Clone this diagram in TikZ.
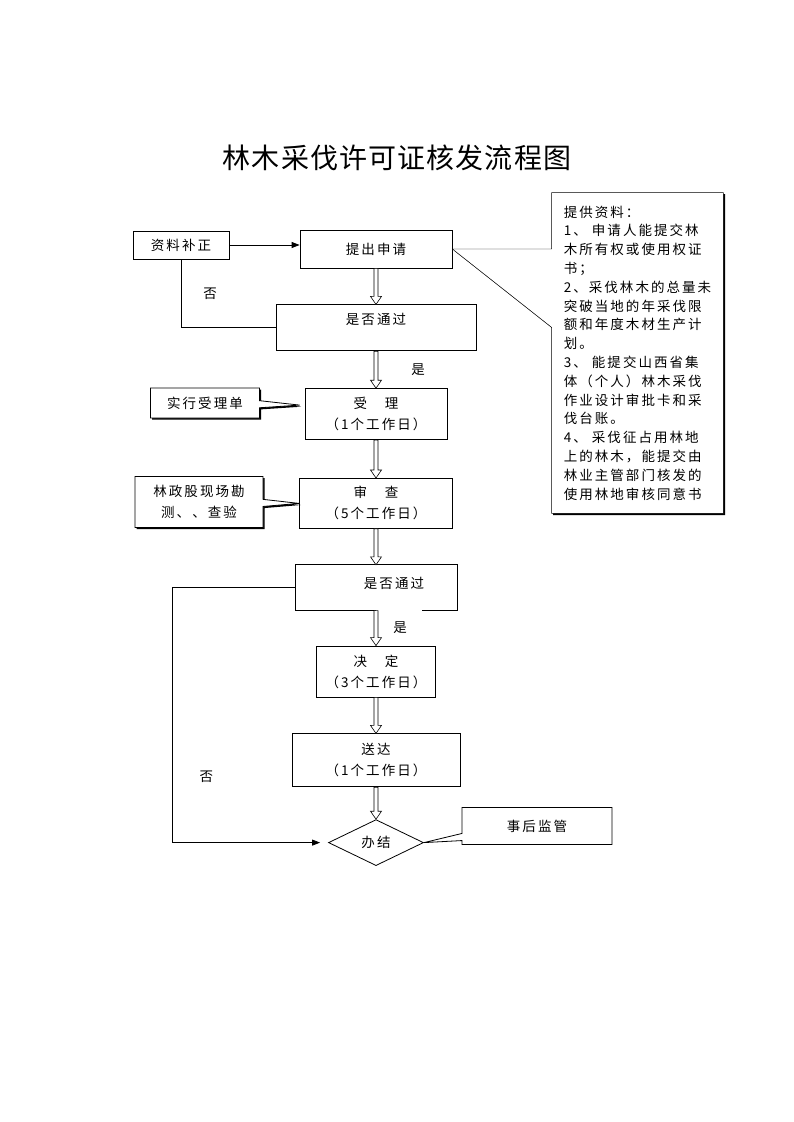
\documentclass[tikz,border=0pt]{standalone}
\usepackage{fontspec}
\setmainfont{Noto Sans CJK SC}[LetterSpace=15]
\newfontfamily\titlefont{Noto Sans CJK SC}[LetterSpace=4]
\usetikzlibrary{arrows.meta, positioning, shapes.geometric, shapes.callouts, shadows, backgrounds, calc, decorations.markings}

\begin{document}
\begin{tikzpicture}[
    x=1pt, y=-1pt,
    font=\fontsize{13.5}{21}\selectfont,
    line width=0.8pt,
    box/.style={draw, align=center, inner sep=2pt},
    decision/.style={draw, diamond, aspect=2, inner sep=0pt},
    note/.style={rectangle callout, draw, fill=white, align=center},
    shade/.style={drop shadow={shadow xshift=1.6pt, shadow yshift=-1.6pt,
                  fill=black, opacity=1}},
    hollow/.style={decorate, decoration={markings, mark=at position 1 with {
        \draw[line width=0.6pt, fill=white] (0pt,0pt) -- (-8pt,5.5pt) -- (-8pt,2pt)
            -- (-\pgfdecoratedpathlength,2pt) -- (-\pgfdecoratedpathlength,-2pt)
            -- (-8pt,-2pt) -- (-8pt,-5.5pt) -- cycle;}}},
    arrow/.style={-{Triangle[length=8pt, width=6pt]}},
    lbl/.style={inner sep=1pt},
]
    \useasboundingbox (0,0) rectangle (793,1122);

    \node[font=\titlefont\fontsize{28}{32}\selectfont] (title) at (397,158) {林木采伐许可证核发流程图};

    % main column
    \node[box, minimum width=152pt, minimum height=38pt] (tichu) at (376,249) {提出申请};
    \node[box, minimum width=200pt, minimum height=46pt, below=36pt of tichu] (tongguo1) {是否通过\\[-3pt]\mbox{}};
    \node[box, minimum width=142pt, minimum height=51pt, below=37pt of tongguo1] (shouli) {受　理\\（1个工作日）};
    \node[box, minimum width=153pt, minimum height=50pt, below=38pt of shouli] (shencha) {审　查\\（5个工作日）};
    \node[align=center, minimum width=161pt, minimum height=45pt, below=36pt of shencha] (tongguo2) {\hspace*{36pt}是否通过\\[-12pt]\mbox{}};
    \node[box, minimum width=119pt, minimum height=51pt, below=35pt of tongguo2] (jueding) {决　定\\（3个工作日）};
    \node[box, minimum width=168pt, minimum height=53pt, below=36pt of jueding] (songda) {送达\\（1个工作日）};
    \node[decision, minimum width=95pt, minimum height=46pt, below=32pt of songda] (banjie) {办结};

    % side boxes
    \node[box, minimum width=96pt, minimum height=28pt] (buzheng) at (181,245) {资料补正};
    \node[note, shade, minimum width=109pt, minimum height=30pt,
          callout absolute pointer={($(shouli.west)+(-5,-9)$)}] (danju) at (205,403) {实行受理单};
    \node[note, shade, minimum width=128pt, minimum height=51pt,
          callout absolute pointer={(shencha.west)}] (kancha) at (199,502) {林政股现场勘\\测、、查验};
    \node[note, minimum width=150pt, minimum height=37pt,
          callout absolute pointer={(banjie.east)}] (jianguan) at (537,826) {事后监管};
    \node[minimum width=171pt, minimum height=320pt, inner sep=0pt, align=left,
          font=\fontsize{13.5}{18.8}\selectfont] (tigong) at (637.5,353)
          {提供资料：\\1、 申请人能提交林\\木所有权或使用权证\\书；\\2、采伐林木的总量未\\突破当地的年采伐限\\额和年度木材生产计\\划。\\3、 能提交山西省集\\体（个人）林木采伐\\作业设计审批卡和采\\伐台账。\\4、 采伐征占用林地\\上的林木，能提交由\\林业主管部门核发的\\使用林地审核同意书};

    \begin{scope}[on background layer]
        \draw[fill=white, shade] (tigong.north west) -- (tigong.north east)
            -- (tigong.south east) -- (tigong.south west)
            -- ($(tigong.north west)!0.42!(tigong.south west)$) -- (tichu.east)
            -- (tigong.west |- tichu.east) -- cycle;
    \end{scope}

    % open box bottom
    \draw ($(tongguo2.south)+(46,0)$) -| (tongguo2.north east) -| (tongguo2.south west) -- (tongguo2.south);

    % flow
    \draw[hollow] (tichu.south) -- (tongguo1.north);
    \draw[hollow] (tongguo1.south) -- node[lbl, right=34pt] {是} (shouli.north);
    \draw[hollow] (shouli.south) -- (shencha.north);
    \draw[hollow] (shencha.south) -- (tongguo2.north);
    \draw[hollow] (tongguo2.south) -- node[lbl, right=16pt] {是} (jueding.north);
    \draw[hollow] (jueding.south) -- (songda.north);
    \draw[hollow] (songda.south) -- (banjie.north);

    \draw[arrow] (buzheng.east) -- (tichu.west |- buzheng.east);
    \draw (tongguo1.west) -| node[lbl, pos=0.75, right=21pt] {否} (buzheng.south);
    \draw[arrow, shorten >=8pt] (tongguo2.west) -- ++(-123,0)
        |- node[lbl, pos=0.37, right=26pt] {否} (banjie.west);
\end{tikzpicture}
\end{document}
